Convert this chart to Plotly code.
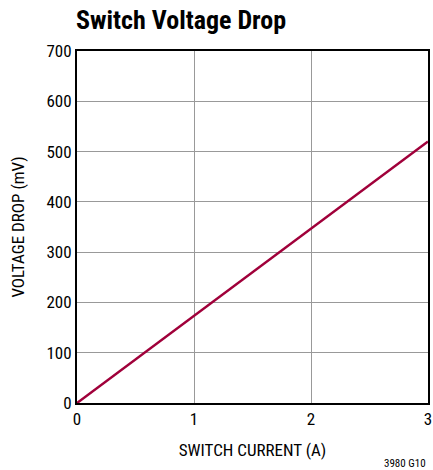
import plotly.graph_objects as go

current_a = [0, 3]
drop_mv = [0, 520]
x_ticks = [0, 1, 2, 3]
y_ticks = [0, 100, 200, 300, 400, 500, 600, 700]

FONT = "Liberation Sans Narrow, Arial Narrow, Roboto Condensed, Liberation Sans, sans-serif"

fig = go.Figure()
fig.add_trace(go.Scatter(x=current_a, y=drop_mv, mode="lines",
                         line=dict(color="#A0003A", width=2.5), showlegend=False))

fig.update_layout(
    width=433, height=470,
    margin=dict(l=77, r=5, t=51, b=67),
    paper_bgcolor="white", plot_bgcolor="white",
    font=dict(family=FONT, size=17, color="black"),
    xaxis=dict(range=[0, 3], tickvals=x_ticks, showgrid=True, gridcolor="#999999", gridwidth=1,
               showline=True, linecolor="black", linewidth=2, mirror=True, ticks="",
               zeroline=False, automargin=False,
               title=dict(text="SWITCH CURRENT (A)", font=dict(size=17), standoff=16)),
    yaxis=dict(range=[0, 700], tickvals=y_ticks, showgrid=True, gridcolor="#999999", gridwidth=1,
               showline=True, linecolor="black", linewidth=2, mirror=True, ticks="",
               zeroline=False, automargin=False,
               title=dict(text="VOLTAGE DROP (mV)", font=dict(size=17), standoff=17)),
    annotations=[
        dict(text="<b>Switch Voltage Drop</b>", xref="paper", yref="paper", x=0, y=1,
             xanchor="left", yanchor="bottom", yshift=14, xshift=-3, showarrow=False,
             font=dict(size=26, family=FONT)),
        dict(text="3980 G10", xref="paper", yref="paper", x=1, y=0, xanchor="right",
             yanchor="middle", yshift=-60, xshift=0, showarrow=False, font=dict(size=11, family=FONT)),
    ],
)
fig.write_html("out.html", config={"displayModeBar": False},
               post_script="document.body.style.margin='0';document.body.style.overflow='hidden';")
